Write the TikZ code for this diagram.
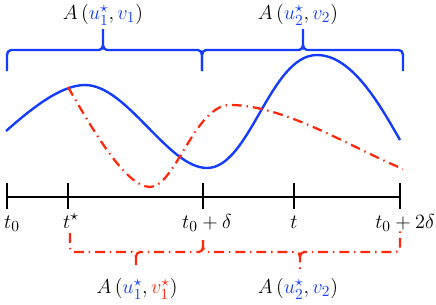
\documentclass[tikz,border=0pt]{standalone}
\usepackage{amsmath,amssymb}
\usepackage{tikz}
\usetikzlibrary{calc}
\usepackage{xcolor}
\definecolor{cblue}{RGB}{20,60,255}
\definecolor{cred}{RGB}{255,40,10}

\begin{document}
\begin{tikzpicture}[
    x=0.025cm, y=-0.025cm,
    lbl/.style={inner sep=0pt, font=\fontsize{15.5}{18}\selectfont},
    sol/.style={cblue, line width=1.7pt},
    dd/.style={cred, line width=1.6pt, dash pattern=on 7pt off 3.5pt on 1pt off 3.5pt},
    tick/.style={line width=1.8pt}
]
    \useasboundingbox (0,0) rectangle (436,304);

    % Time axis
    \coordinate (T0) at (7,197);
    \coordinate (Ts) at (68,197);
    \coordinate (T1) at (203,197);
    \coordinate (Tt) at (294,197);
    \coordinate (T2) at (400,197);
    \draw[line width=1.3pt] (T0) -- (T2);
    \foreach \p in {T0,Ts,T1,Tt,T2}
        \draw[tick] ($(\p)+(0,-14)$) -- ($(\p)+(0,12)$);
    \node[lbl, anchor=base] (l0) at (12,228) {$t_0$};
    \node[lbl, anchor=base] (ls) at (71,228) {$t^\star$};
    \node[lbl, anchor=base] (l1) at (207,228) {$t_0+\delta$};
    \node[lbl, anchor=base] (lt) at (294,228) {$t$};
    \node[lbl, anchor=base] (l2) at (405,228) {$t_0+2\delta$};

    % Trajectories
    \draw[sol] (6,131) .. controls (30,110) and (60,85) .. (85,85)
        .. controls (127,85) and (168,168) .. (207,168)
        .. controls (250,168) and (270,55) .. (317,55)
        .. controls (352,55) and (380,105) .. (400,140);
    \draw[dd] (68,87) .. controls (90,125) and (125,187) .. (150,187)
        .. controls (175,187) and (195,105) .. (230,105)
        .. controls (285,105) and (352,148) .. (403,169);

    % Upper braces
    \draw[sol] (7,71) -- (7,55) to[out=90,in=180] (11,50) -- (99,50) to[out=0,in=-90] (103,45) -- (103,29)
        (103,45) to[out=-90,in=180] (107,50) -- (198,50) to[out=0,in=90] (202,55) -- (202,71);
    \draw[sol] (202,71) -- (202,55) to[out=90,in=180] (206,50) -- (299,50) to[out=0,in=-90] (303,45) -- (303,29)
        (303,45) to[out=-90,in=180] (307,50) -- (399,50) to[out=0,in=90] (403,55) -- (403,71);
    \node[lbl] (a1) at (103,15) {$A\left(\textcolor{cblue}{u_1^\star},\textcolor{cblue}{v_1}\right)$};
    \node[lbl] (a2) at (298,15) {$A\left(\textcolor{cblue}{u_2^\star},\textcolor{cblue}{v_2}\right)$};

    % Lower braces
    \draw[dd] (70,233) -- (70,248) to[out=-90,in=180] (74,252) -- (132,252) to[out=0,in=90] (136,257) -- (136,270)
        (136,257) to[out=90,in=180] (140,252) -- (199,252) to[out=0,in=-90] (203,247) -- (203,240);
    \draw[dd] (203,240) -- (203,247) to[out=-90,in=180] (207,252) -- (296,252) to[out=0,in=90] (300,257) -- (300,270)
        (300,257) to[out=90,in=180] (304,252) -- (396,252) to[out=0,in=-90] (400,248) -- (400,227);
    \node[lbl] (b1) at (137,289) {$A\left(\textcolor{cblue}{u_1^\star},\textcolor{cred}{v_1^\star}\right)$};
    \node[lbl] (b2) at (298,289) {$A\left(\textcolor{cblue}{u_2^\star},\textcolor{cblue}{v_2}\right)$};
\end{tikzpicture}
\end{document}
